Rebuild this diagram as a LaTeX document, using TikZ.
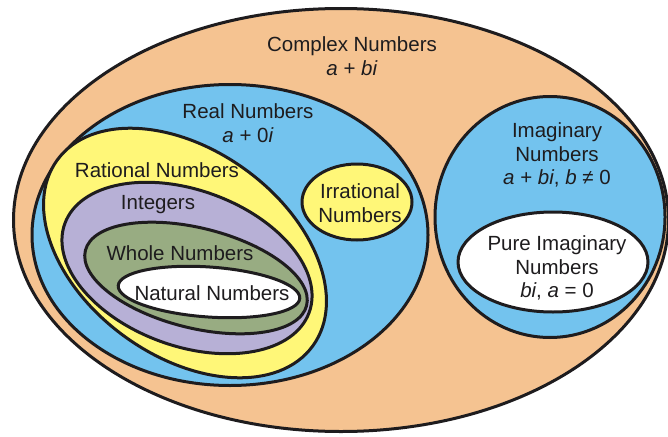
\documentclass[tikz,border=0pt]{standalone}
\usepackage{fontspec}
\setmainfont{Liberation Sans}
\usetikzlibrary{shapes.geometric}

\definecolor{complexc}{RGB}{245,195,145}
\definecolor{realc}{RGB}{115,195,238}
\definecolor{rationalc}{RGB}{255,247,120}
\definecolor{integerc}{RGB}{183,176,214}
\definecolor{wholec}{RGB}{152,172,130}
\definecolor{inkc}{RGB}{30,28,30}

\begin{document}
\begin{tikzpicture}[x=1pt, y=-1pt,
  zone/.style = {draw=inkc, ellipse, line width=3pt, inner sep=0pt},
  lbl/.style = {text=inkc, align=center, inner sep=0pt, font=\fontsize{20.5}{23.5}\selectfont}]
\useasboundingbox (0,0) rectangle (668,436);
% sets, outer to inner
\node[zone, fill=complexc, minimum width=655pt, minimum height=423pt] (complex) at (341,220) {};
\node[zone, fill=realc, minimum width=396pt, minimum height=301pt] (real) at (230,235) {};
\node[zone, fill=rationalc, minimum width=316pt, minimum height=206pt, rotate=-36] (rational) at (185,253) {};
\node[zone, fill=integerc, minimum width=260pt, minimum height=156pt, rotate=-20] (integer) at (187,268) {};
\node[zone, fill=wholec, minimum width=228pt, minimum height=100pt, rotate=-14] (whole) at (196,278) {};
\node[zone, fill=white, minimum width=182pt, minimum height=50pt, rotate=-4] (natural) at (209,292) {};
\node[zone, fill=rationalc, minimum width=110pt, minimum height=76pt] (irrational) at (357,202) {};
\node[zone, fill=realc, minimum width=230pt, minimum height=241pt] (imaginary) at (550,217) {};
\node[zone, fill=white, minimum width=190pt, minimum height=100pt] (pureim) at (553,262) {};
% labels
\node[lbl] (complexlbl) at (352,56) {Complex Numbers\\\textit{a} + \textit{bi}};
\node[lbl] (reallbl) at (248,123) {Real Numbers\\\textit{a} + 0\textit{i}};
\node[lbl] (rationallbl) at (157,170) {Rational Numbers};
\node[lbl] (integerlbl) at (158,205) {Integers};
\node[lbl] (wholelbl) at (180,253) {Whole Numbers};
\node[lbl] (naturallbl) at (212,293) {Natural Numbers};
\node[lbl] (irrationallbl) at (360,203) {Irrational\\Numbers};
\node[lbl] (imaginarylbl) at (557,155) {Imaginary\\Numbers\\\textit{a} + \textit{bi}, \textit{b} ≠ 0};
\node[lbl] (pureimlbl) at (557,268) {Pure Imaginary\\Numbers\\\textit{bi}, \textit{a} = 0};
\end{tikzpicture}
\end{document}
